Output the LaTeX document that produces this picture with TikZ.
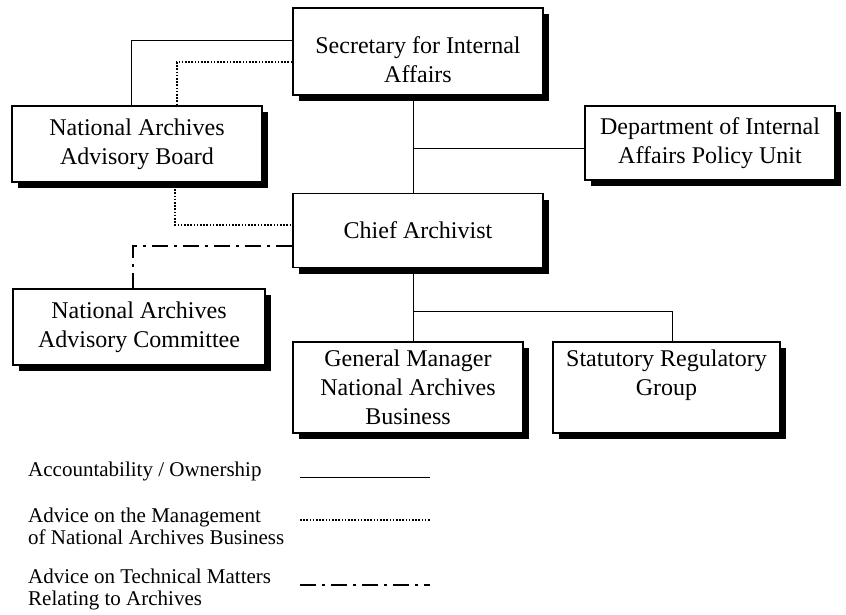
\documentclass[tikz,border=0pt]{standalone}
\usepackage{fontspec}
\setmainfont{Liberation Serif}
\usepackage{tikz}
\usetikzlibrary{calc,shadows}

\tikzset{
  orgbox/.style={draw, line width=1.6pt, fill=white, align=center, inner sep=0pt,
    font=\fontsize{24}{29}\selectfont,
    drop shadow={shadow xshift=6pt, shadow yshift=-6pt, fill=black, opacity=1}},
  owner/.style={line width=1pt},
  mgmt/.style={line width=2pt, dash pattern=on 1.6pt off 1.6pt},
  tech/.style={line width=2pt, dash pattern=on 16pt off 6pt on 3pt off 6pt},
  keytext/.style={anchor=west, align=left, inner sep=0pt, font=\fontsize{21}{22}\selectfont}
}

\begin{document}
\begin{tikzpicture}[x=1pt, y=-1pt]
      \useasboundingbox (0,0) rectangle (846,615);

      \node[orgbox, minimum width=250pt, minimum height=87pt] (sec) at (418,51.5) {\rule{0pt}{33pt}Secretary for Internal\\Affairs};
      \node[orgbox, minimum width=250pt, minimum height=76pt] (naab) at (137,144) {National Archives\\Advisory Board};
      \node[orgbox, minimum width=250pt, minimum height=74pt] (dia) at (710,143) {Department of Internal\\Affairs Policy Unit};
      \node[orgbox, minimum width=250pt, minimum height=74pt] (chief) at (418,230.5) {Chief Archivist};
      \node[orgbox, minimum width=252pt, minimum height=76pt] (naac) at (139,327) {National Archives\\Advisory Committee};
      \node[orgbox, minimum width=230pt, minimum height=91pt] (gm) at (408,387.5) {General Manager\\National Archives\\Business};
      \node[orgbox, minimum width=227pt, minimum height=91pt] (srg) at (666.5,387.5) {Statutory Regulatory\\Group\\\mbox{}};

      \draw[owner] ($(sec.west)+(0,-10.5)$) -| ($(naab.north)+(-6,0)$);
      \draw[mgmt] ($(sec.west)+(0,10.5)$) -| ($(naab.north)+(40,0)$);
      \draw[owner] ($(sec.south)+(-5,0)$) coordinate (st) -- (st |- chief.north);
      \draw[owner] ($(dia.west)+(0,6)$) -- (st |- {$(dia.west)+(0,6)$});
      \draw[mgmt] ($(naab.south)+(38,0)$) |- ($(chief.west)+(0,-5.5)$);
      \draw[tech] ($(chief.west)+(0,15.5)$) -| ($(naac.north)+(-6,0)$);
      \draw[owner] ($(chief.south)+(-5,0)$) coordinate (cs) -- (cs |- gm.north);
      \draw[owner] ($(cs)+(0,43)$) -| ($(srg.north)+(6,0)$);

      \node[keytext] (kown) at (28,471) {Accountability / Ownership};
      \node[keytext] (kmgmt) at (28,526) {Advice on the Management\\of National Archives Business};
      \node[keytext] (ktech) at (28,589) {Advice on Technical Matters\\Relating to Archives};
      \draw[owner] (300,477) -- (430,477);
      \draw[mgmt] (300,520) -- (430,520);
      \draw[tech] (300,585) -- (430,585);
\end{tikzpicture}
\end{document}
